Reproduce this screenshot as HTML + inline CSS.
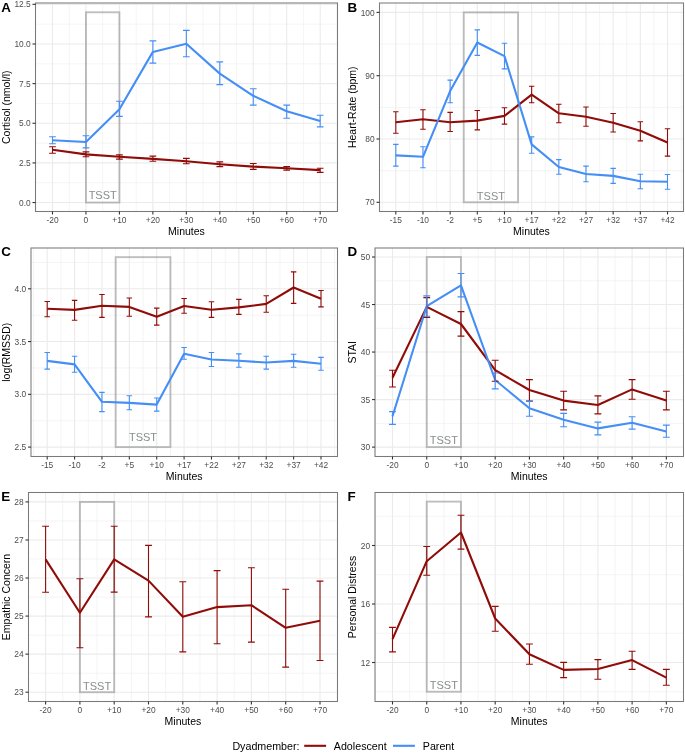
<!DOCTYPE html>
<html><head><meta charset="utf-8"><style>
html,body{margin:0;padding:0;background:#fff;}
svg{display:block;will-change:transform;font-family:"Liberation Sans",sans-serif;}
</style></head><body>
<svg width="685" height="753" viewBox="0 0 685 753">
<rect width="685" height="753" fill="#fff"/>
<g><clipPath id="cA"><rect x="35.5" y="3" width="302.0" height="208.5"/></clipPath><g clip-path="url(#cA)"><line x1="35.5" x2="337.5" y1="222.37" y2="222.37" stroke="#ebebeb" stroke-width="0.55"/><line x1="35.5" x2="337.5" y1="182.73" y2="182.73" stroke="#ebebeb" stroke-width="0.55"/><line x1="35.5" x2="337.5" y1="143.09" y2="143.09" stroke="#ebebeb" stroke-width="0.55"/><line x1="35.5" x2="337.5" y1="103.45" y2="103.45" stroke="#ebebeb" stroke-width="0.55"/><line x1="35.5" x2="337.5" y1="63.81" y2="63.81" stroke="#ebebeb" stroke-width="0.55"/><line x1="35.5" x2="337.5" y1="24.17" y2="24.17" stroke="#ebebeb" stroke-width="0.55"/><line y1="3" y2="211.5" x1="35.77" x2="35.77" stroke="#ebebeb" stroke-width="0.55"/><line y1="3" y2="211.5" x1="69.23" x2="69.23" stroke="#ebebeb" stroke-width="0.55"/><line y1="3" y2="211.5" x1="102.69" x2="102.69" stroke="#ebebeb" stroke-width="0.55"/><line y1="3" y2="211.5" x1="136.15" x2="136.15" stroke="#ebebeb" stroke-width="0.55"/><line y1="3" y2="211.5" x1="169.61" x2="169.61" stroke="#ebebeb" stroke-width="0.55"/><line y1="3" y2="211.5" x1="203.07" x2="203.07" stroke="#ebebeb" stroke-width="0.55"/><line y1="3" y2="211.5" x1="236.53" x2="236.53" stroke="#ebebeb" stroke-width="0.55"/><line y1="3" y2="211.5" x1="269.99" x2="269.99" stroke="#ebebeb" stroke-width="0.55"/><line y1="3" y2="211.5" x1="303.45" x2="303.45" stroke="#ebebeb" stroke-width="0.55"/><line y1="3" y2="211.5" x1="336.91" x2="336.91" stroke="#ebebeb" stroke-width="0.55"/><line x1="35.5" x2="337.5" y1="202.55" y2="202.55" stroke="#ebebeb" stroke-width="1.1"/><line x1="35.5" x2="337.5" y1="162.91" y2="162.91" stroke="#ebebeb" stroke-width="1.1"/><line x1="35.5" x2="337.5" y1="123.27" y2="123.27" stroke="#ebebeb" stroke-width="1.1"/><line x1="35.5" x2="337.5" y1="83.63" y2="83.63" stroke="#ebebeb" stroke-width="1.1"/><line x1="35.5" x2="337.5" y1="43.99" y2="43.99" stroke="#ebebeb" stroke-width="1.1"/><line x1="35.5" x2="337.5" y1="4.35" y2="4.35" stroke="#ebebeb" stroke-width="1.1"/><line y1="3" y2="211.5" x1="52.5" x2="52.5" stroke="#ebebeb" stroke-width="1.1"/><line y1="3" y2="211.5" x1="85.96" x2="85.96" stroke="#ebebeb" stroke-width="1.1"/><line y1="3" y2="211.5" x1="119.42" x2="119.42" stroke="#ebebeb" stroke-width="1.1"/><line y1="3" y2="211.5" x1="152.88" x2="152.88" stroke="#ebebeb" stroke-width="1.1"/><line y1="3" y2="211.5" x1="186.34" x2="186.34" stroke="#ebebeb" stroke-width="1.1"/><line y1="3" y2="211.5" x1="219.8" x2="219.8" stroke="#ebebeb" stroke-width="1.1"/><line y1="3" y2="211.5" x1="253.26" x2="253.26" stroke="#ebebeb" stroke-width="1.1"/><line y1="3" y2="211.5" x1="286.72" x2="286.72" stroke="#ebebeb" stroke-width="1.1"/><line y1="3" y2="211.5" x1="320.18" x2="320.18" stroke="#ebebeb" stroke-width="1.1"/><rect x="85.96" y="12.28" width="33.46" height="190.27" fill="none" stroke="#7f7f7f" stroke-opacity="0.5" stroke-width="1.9"/><text x="102.69" y="198.7" text-anchor="middle" font-size="11" fill="#888d8d">TSST</text><path d="M52.5 149.8 L85.96 154.4 L119.42 156.8 L152.88 158.9 L186.34 161.3 L219.8 164.2 L253.26 166.6 L286.72 168.2 L320.18 170.1" stroke="#900c08" stroke-width="2.1" fill="none" stroke-linejoin="round" stroke-linecap="butt"/><path d="M52.5 140.2 L85.96 142 L119.42 109.3 L152.88 51.9 L186.34 43.7 L219.8 73.6 L253.26 95.8 L286.72 111.2 L320.18 121" stroke="#448ef6" stroke-width="2.1" fill="none" stroke-linejoin="round" stroke-linecap="butt"/><path d="M49.15 146.7H55.85M52.5 146.7V153.3M49.15 153.3H55.85" stroke="#900c08" stroke-width="1.1" fill="none"/><path d="M82.61 151.9H89.31M85.96 151.9V156.8M82.61 156.8H89.31" stroke="#900c08" stroke-width="1.1" fill="none"/><path d="M116.07 154.9H122.77M119.42 154.9V159.1M116.07 159.1H122.77" stroke="#900c08" stroke-width="1.1" fill="none"/><path d="M149.53 156.1H156.23M152.88 156.1V161.2M149.53 161.2H156.23" stroke="#900c08" stroke-width="1.1" fill="none"/><path d="M182.99 158.4H189.69M186.34 158.4V163.8M182.99 163.8H189.69" stroke="#900c08" stroke-width="1.1" fill="none"/><path d="M216.45 161.9H223.15M219.8 161.9V166.6M216.45 166.6H223.15" stroke="#900c08" stroke-width="1.1" fill="none"/><path d="M249.91 163.5H256.61M253.26 163.5V169.4M249.91 169.4H256.61" stroke="#900c08" stroke-width="1.1" fill="none"/><path d="M283.37 166.6H290.07M286.72 166.6V170.1M283.37 170.1H290.07" stroke="#900c08" stroke-width="1.1" fill="none"/><path d="M316.83 168.2H323.53M320.18 168.2V172.4M316.83 172.4H323.53" stroke="#900c08" stroke-width="1.1" fill="none"/><path d="M49.15 136.7H55.85M52.5 136.7V143.7M49.15 143.7H55.85" stroke="#448ef6" stroke-width="1.1" fill="none"/><path d="M82.61 135.7H89.31M85.96 135.7V147.9M82.61 147.9H89.31" stroke="#448ef6" stroke-width="1.1" fill="none"/><path d="M116.07 101.2H122.77M119.42 101.2V116.4M116.07 116.4H122.77" stroke="#448ef6" stroke-width="1.1" fill="none"/><path d="M149.53 40.9H156.23M152.88 40.9V63.1M149.53 63.1H156.23" stroke="#448ef6" stroke-width="1.1" fill="none"/><path d="M182.99 30.4H189.69M186.34 30.4V56.8M182.99 56.8H189.69" stroke="#448ef6" stroke-width="1.1" fill="none"/><path d="M216.45 61.9H223.15M219.8 61.9V84.6M216.45 84.6H223.15" stroke="#448ef6" stroke-width="1.1" fill="none"/><path d="M249.91 88.8H256.61M253.26 88.8V105.1M249.91 105.1H256.61" stroke="#448ef6" stroke-width="1.1" fill="none"/><path d="M283.37 105.1H290.07M286.72 105.1V118.2M283.37 118.2H290.07" stroke="#448ef6" stroke-width="1.1" fill="none"/><path d="M316.83 115.2H323.53M320.18 115.2V126.9M316.83 126.9H323.53" stroke="#448ef6" stroke-width="1.1" fill="none"/></g><rect x="35.5" y="3" width="302" height="208.5" fill="none" stroke="#7a7a7a" stroke-width="1.05"/><line x1="32.5" x2="35.5" y1="202.55" y2="202.55" stroke="#333333" stroke-width="1.1"/><text x="30.7" y="205.65" text-anchor="end" font-size="8.4" fill="#4d4d4d">0.0</text><line x1="32.5" x2="35.5" y1="162.91" y2="162.91" stroke="#333333" stroke-width="1.1"/><text x="30.7" y="166.01" text-anchor="end" font-size="8.4" fill="#4d4d4d">2.5</text><line x1="32.5" x2="35.5" y1="123.27" y2="123.27" stroke="#333333" stroke-width="1.1"/><text x="30.7" y="126.37" text-anchor="end" font-size="8.4" fill="#4d4d4d">5.0</text><line x1="32.5" x2="35.5" y1="83.63" y2="83.63" stroke="#333333" stroke-width="1.1"/><text x="30.7" y="86.73" text-anchor="end" font-size="8.4" fill="#4d4d4d">7.5</text><line x1="32.5" x2="35.5" y1="43.99" y2="43.99" stroke="#333333" stroke-width="1.1"/><text x="30.7" y="47.09" text-anchor="end" font-size="8.4" fill="#4d4d4d">10.0</text><line x1="32.5" x2="35.5" y1="4.35" y2="4.35" stroke="#333333" stroke-width="1.1"/><text x="30.7" y="7.45" text-anchor="end" font-size="8.4" fill="#4d4d4d">12.5</text><line x1="52.5" x2="52.5" y1="211.5" y2="214.5" stroke="#333333" stroke-width="1.1"/><text x="52.5" y="222.9" text-anchor="middle" font-size="8.4" fill="#4d4d4d">-20</text><line x1="85.96" x2="85.96" y1="211.5" y2="214.5" stroke="#333333" stroke-width="1.1"/><text x="85.96" y="222.9" text-anchor="middle" font-size="8.4" fill="#4d4d4d">0</text><line x1="119.42" x2="119.42" y1="211.5" y2="214.5" stroke="#333333" stroke-width="1.1"/><text x="119.42" y="222.9" text-anchor="middle" font-size="8.4" fill="#4d4d4d">+10</text><line x1="152.88" x2="152.88" y1="211.5" y2="214.5" stroke="#333333" stroke-width="1.1"/><text x="152.88" y="222.9" text-anchor="middle" font-size="8.4" fill="#4d4d4d">+20</text><line x1="186.34" x2="186.34" y1="211.5" y2="214.5" stroke="#333333" stroke-width="1.1"/><text x="186.34" y="222.9" text-anchor="middle" font-size="8.4" fill="#4d4d4d">+30</text><line x1="219.8" x2="219.8" y1="211.5" y2="214.5" stroke="#333333" stroke-width="1.1"/><text x="219.8" y="222.9" text-anchor="middle" font-size="8.4" fill="#4d4d4d">+40</text><line x1="253.26" x2="253.26" y1="211.5" y2="214.5" stroke="#333333" stroke-width="1.1"/><text x="253.26" y="222.9" text-anchor="middle" font-size="8.4" fill="#4d4d4d">+50</text><line x1="286.72" x2="286.72" y1="211.5" y2="214.5" stroke="#333333" stroke-width="1.1"/><text x="286.72" y="222.9" text-anchor="middle" font-size="8.4" fill="#4d4d4d">+60</text><line x1="320.18" x2="320.18" y1="211.5" y2="214.5" stroke="#333333" stroke-width="1.1"/><text x="320.18" y="222.9" text-anchor="middle" font-size="8.4" fill="#4d4d4d">+70</text><text x="186.5" y="235.1" text-anchor="middle" font-size="10.5" fill="#000">Minutes</text><text transform="translate(9.6 107.25) rotate(-90)" text-anchor="middle" font-size="10.5" fill="#000">Cortisol (nmol/l)</text><text x="1.3" y="12" font-size="13.4" font-weight="bold" fill="#000">A</text></g><g><clipPath id="cB"><rect x="379.5" y="3" width="304.0" height="208.5"/></clipPath><g clip-path="url(#cB)"><line x1="379.5" x2="683.5" y1="233.95" y2="233.95" stroke="#ebebeb" stroke-width="0.55"/><line x1="379.5" x2="683.5" y1="170.65" y2="170.65" stroke="#ebebeb" stroke-width="0.55"/><line x1="379.5" x2="683.5" y1="107.35" y2="107.35" stroke="#ebebeb" stroke-width="0.55"/><line x1="379.5" x2="683.5" y1="44.05" y2="44.05" stroke="#ebebeb" stroke-width="0.55"/><line x1="379.5" x2="683.5" y1="-19.25" y2="-19.25" stroke="#ebebeb" stroke-width="0.55"/><line y1="3" y2="211.5" x1="382.22" x2="382.22" stroke="#ebebeb" stroke-width="0.55"/><line y1="3" y2="211.5" x1="409.38" x2="409.38" stroke="#ebebeb" stroke-width="0.55"/><line y1="3" y2="211.5" x1="436.56" x2="436.56" stroke="#ebebeb" stroke-width="0.55"/><line y1="3" y2="211.5" x1="463.73" x2="463.73" stroke="#ebebeb" stroke-width="0.55"/><line y1="3" y2="211.5" x1="490.89" x2="490.89" stroke="#ebebeb" stroke-width="0.55"/><line y1="3" y2="211.5" x1="518.07" x2="518.07" stroke="#ebebeb" stroke-width="0.55"/><line y1="3" y2="211.5" x1="545.24" x2="545.24" stroke="#ebebeb" stroke-width="0.55"/><line y1="3" y2="211.5" x1="572.4" x2="572.4" stroke="#ebebeb" stroke-width="0.55"/><line y1="3" y2="211.5" x1="599.58" x2="599.58" stroke="#ebebeb" stroke-width="0.55"/><line y1="3" y2="211.5" x1="626.75" x2="626.75" stroke="#ebebeb" stroke-width="0.55"/><line y1="3" y2="211.5" x1="653.91" x2="653.91" stroke="#ebebeb" stroke-width="0.55"/><line y1="3" y2="211.5" x1="681.09" x2="681.09" stroke="#ebebeb" stroke-width="0.55"/><line x1="379.5" x2="683.5" y1="202.3" y2="202.3" stroke="#ebebeb" stroke-width="1.1"/><line x1="379.5" x2="683.5" y1="139" y2="139" stroke="#ebebeb" stroke-width="1.1"/><line x1="379.5" x2="683.5" y1="75.7" y2="75.7" stroke="#ebebeb" stroke-width="1.1"/><line x1="379.5" x2="683.5" y1="12.4" y2="12.4" stroke="#ebebeb" stroke-width="1.1"/><line y1="3" y2="211.5" x1="395.8" x2="395.8" stroke="#ebebeb" stroke-width="1.1"/><line y1="3" y2="211.5" x1="422.97" x2="422.97" stroke="#ebebeb" stroke-width="1.1"/><line y1="3" y2="211.5" x1="450.14" x2="450.14" stroke="#ebebeb" stroke-width="1.1"/><line y1="3" y2="211.5" x1="477.31" x2="477.31" stroke="#ebebeb" stroke-width="1.1"/><line y1="3" y2="211.5" x1="504.48" x2="504.48" stroke="#ebebeb" stroke-width="1.1"/><line y1="3" y2="211.5" x1="531.65" x2="531.65" stroke="#ebebeb" stroke-width="1.1"/><line y1="3" y2="211.5" x1="558.82" x2="558.82" stroke="#ebebeb" stroke-width="1.1"/><line y1="3" y2="211.5" x1="585.99" x2="585.99" stroke="#ebebeb" stroke-width="1.1"/><line y1="3" y2="211.5" x1="613.16" x2="613.16" stroke="#ebebeb" stroke-width="1.1"/><line y1="3" y2="211.5" x1="640.33" x2="640.33" stroke="#ebebeb" stroke-width="1.1"/><line y1="3" y2="211.5" x1="667.5" x2="667.5" stroke="#ebebeb" stroke-width="1.1"/><rect x="463.73" y="12.4" width="54.34" height="189.9" fill="none" stroke="#7f7f7f" stroke-opacity="0.5" stroke-width="1.9"/><text x="490.9" y="200" text-anchor="middle" font-size="11" fill="#888d8d">TSST</text><path d="M395.8 122.2 L422.97 119.2 L450.14 122.2 L477.31 120.6 L504.48 115.9 L531.65 94.6 L558.82 113.3 L585.99 116.8 L613.16 122.7 L640.33 130.8 L667.5 142.5" stroke="#900c08" stroke-width="2.1" fill="none" stroke-linejoin="round" stroke-linecap="butt"/><path d="M395.8 155.4 L422.97 156.8 L450.14 91.1 L477.31 42.5 L504.48 56.1 L531.65 144.4 L558.82 167 L585.99 174 L613.16 175.9 L640.33 181.3 L667.5 181.8" stroke="#448ef6" stroke-width="2.1" fill="none" stroke-linejoin="round" stroke-linecap="butt"/><path d="M393.08 111.7H398.52M395.8 111.7V133.2M393.08 133.2H398.52" stroke="#900c08" stroke-width="1.1" fill="none"/><path d="M420.25 109.8H425.69M422.97 109.8V129.2M420.25 129.2H425.69" stroke="#900c08" stroke-width="1.1" fill="none"/><path d="M447.42 112.4H452.86M450.14 112.4V131.5M447.42 131.5H452.86" stroke="#900c08" stroke-width="1.1" fill="none"/><path d="M474.59 110.5H480.03M477.31 110.5V129.9M474.59 129.9H480.03" stroke="#900c08" stroke-width="1.1" fill="none"/><path d="M501.76 107.7H507.2M504.48 107.7V124.1M501.76 124.1H507.2" stroke="#900c08" stroke-width="1.1" fill="none"/><path d="M528.93 86.2H534.37M531.65 86.2V102.8M528.93 102.8H534.37" stroke="#900c08" stroke-width="1.1" fill="none"/><path d="M556.1 104.2H561.54M558.82 104.2V122.7M556.1 122.7H561.54" stroke="#900c08" stroke-width="1.1" fill="none"/><path d="M583.27 107H588.71M585.99 107V126.2M583.27 126.2H588.71" stroke="#900c08" stroke-width="1.1" fill="none"/><path d="M610.44 113.5H615.88M613.16 113.5V132M610.44 132H615.88" stroke="#900c08" stroke-width="1.1" fill="none"/><path d="M637.61 121.7H643.05M640.33 121.7V140.9M637.61 140.9H643.05" stroke="#900c08" stroke-width="1.1" fill="none"/><path d="M664.78 128.7H670.22M667.5 128.7V156.1M664.78 156.1H670.22" stroke="#900c08" stroke-width="1.1" fill="none"/><path d="M393.08 144.4H398.52M395.8 144.4V166.1M393.08 166.1H398.52" stroke="#448ef6" stroke-width="1.1" fill="none"/><path d="M420.25 146.7H425.69M422.97 146.7V167.7M420.25 167.7H425.69" stroke="#448ef6" stroke-width="1.1" fill="none"/><path d="M447.42 80.1H452.86M450.14 80.1V102.8M447.42 102.8H452.86" stroke="#448ef6" stroke-width="1.1" fill="none"/><path d="M474.59 29.9H480.03M477.31 29.9V55.4M474.59 55.4H480.03" stroke="#448ef6" stroke-width="1.1" fill="none"/><path d="M501.76 43.2H507.2M504.48 43.2V68.9M501.76 68.9H507.2" stroke="#448ef6" stroke-width="1.1" fill="none"/><path d="M528.93 136.9H534.37M531.65 136.9V153.3M528.93 153.3H534.37" stroke="#448ef6" stroke-width="1.1" fill="none"/><path d="M556.1 159.6H561.54M558.82 159.6V174.3M556.1 174.3H561.54" stroke="#448ef6" stroke-width="1.1" fill="none"/><path d="M583.27 166.1H588.71M585.99 166.1V181.8M583.27 181.8H588.71" stroke="#448ef6" stroke-width="1.1" fill="none"/><path d="M610.44 168.4H615.88M613.16 168.4V183.4M610.44 183.4H615.88" stroke="#448ef6" stroke-width="1.1" fill="none"/><path d="M637.61 174.3H643.05M640.33 174.3V188.8M637.61 188.8H643.05" stroke="#448ef6" stroke-width="1.1" fill="none"/><path d="M664.78 174.5H670.22M667.5 174.5V189.2M664.78 189.2H670.22" stroke="#448ef6" stroke-width="1.1" fill="none"/></g><rect x="379.5" y="3" width="304" height="208.5" fill="none" stroke="#7a7a7a" stroke-width="1.05"/><line x1="376.5" x2="379.5" y1="202.3" y2="202.3" stroke="#333333" stroke-width="1.1"/><text x="374.7" y="205.4" text-anchor="end" font-size="8.4" fill="#4d4d4d">70</text><line x1="376.5" x2="379.5" y1="139" y2="139" stroke="#333333" stroke-width="1.1"/><text x="374.7" y="142.1" text-anchor="end" font-size="8.4" fill="#4d4d4d">80</text><line x1="376.5" x2="379.5" y1="75.7" y2="75.7" stroke="#333333" stroke-width="1.1"/><text x="374.7" y="78.8" text-anchor="end" font-size="8.4" fill="#4d4d4d">90</text><line x1="376.5" x2="379.5" y1="12.4" y2="12.4" stroke="#333333" stroke-width="1.1"/><text x="374.7" y="15.5" text-anchor="end" font-size="8.4" fill="#4d4d4d">100</text><line x1="395.8" x2="395.8" y1="211.5" y2="214.5" stroke="#333333" stroke-width="1.1"/><text x="395.8" y="222.9" text-anchor="middle" font-size="8.4" fill="#4d4d4d">-15</text><line x1="422.97" x2="422.97" y1="211.5" y2="214.5" stroke="#333333" stroke-width="1.1"/><text x="422.97" y="222.9" text-anchor="middle" font-size="8.4" fill="#4d4d4d">-10</text><line x1="450.14" x2="450.14" y1="211.5" y2="214.5" stroke="#333333" stroke-width="1.1"/><text x="450.14" y="222.9" text-anchor="middle" font-size="8.4" fill="#4d4d4d">-2</text><line x1="477.31" x2="477.31" y1="211.5" y2="214.5" stroke="#333333" stroke-width="1.1"/><text x="477.31" y="222.9" text-anchor="middle" font-size="8.4" fill="#4d4d4d">+5</text><line x1="504.48" x2="504.48" y1="211.5" y2="214.5" stroke="#333333" stroke-width="1.1"/><text x="504.48" y="222.9" text-anchor="middle" font-size="8.4" fill="#4d4d4d">+10</text><line x1="531.65" x2="531.65" y1="211.5" y2="214.5" stroke="#333333" stroke-width="1.1"/><text x="531.65" y="222.9" text-anchor="middle" font-size="8.4" fill="#4d4d4d">+17</text><line x1="558.82" x2="558.82" y1="211.5" y2="214.5" stroke="#333333" stroke-width="1.1"/><text x="558.82" y="222.9" text-anchor="middle" font-size="8.4" fill="#4d4d4d">+22</text><line x1="585.99" x2="585.99" y1="211.5" y2="214.5" stroke="#333333" stroke-width="1.1"/><text x="585.99" y="222.9" text-anchor="middle" font-size="8.4" fill="#4d4d4d">+27</text><line x1="613.16" x2="613.16" y1="211.5" y2="214.5" stroke="#333333" stroke-width="1.1"/><text x="613.16" y="222.9" text-anchor="middle" font-size="8.4" fill="#4d4d4d">+32</text><line x1="640.33" x2="640.33" y1="211.5" y2="214.5" stroke="#333333" stroke-width="1.1"/><text x="640.33" y="222.9" text-anchor="middle" font-size="8.4" fill="#4d4d4d">+37</text><line x1="667.5" x2="667.5" y1="211.5" y2="214.5" stroke="#333333" stroke-width="1.1"/><text x="667.5" y="222.9" text-anchor="middle" font-size="8.4" fill="#4d4d4d">+42</text><text x="531.5" y="235.1" text-anchor="middle" font-size="10.5" fill="#000">Minutes</text><text transform="translate(356 107.25) rotate(-90)" text-anchor="middle" font-size="10.5" fill="#000">Heart-Rate (bpm)</text><text x="347.6" y="12" font-size="13.4" font-weight="bold" fill="#000">B</text></g><g><clipPath id="cC"><rect x="31" y="248" width="306.5" height="208.5"/></clipPath><g clip-path="url(#cC)"><line x1="31" x2="337.5" y1="473.48" y2="473.48" stroke="#ebebeb" stroke-width="0.55"/><line x1="31" x2="337.5" y1="420.72" y2="420.72" stroke="#ebebeb" stroke-width="0.55"/><line x1="31" x2="337.5" y1="367.95" y2="367.95" stroke="#ebebeb" stroke-width="0.55"/><line x1="31" x2="337.5" y1="315.18" y2="315.18" stroke="#ebebeb" stroke-width="0.55"/><line x1="31" x2="337.5" y1="262.42" y2="262.42" stroke="#ebebeb" stroke-width="0.55"/><line y1="248" y2="456.5" x1="33.51" x2="33.51" stroke="#ebebeb" stroke-width="0.55"/><line y1="248" y2="456.5" x1="60.89" x2="60.89" stroke="#ebebeb" stroke-width="0.55"/><line y1="248" y2="456.5" x1="88.27" x2="88.27" stroke="#ebebeb" stroke-width="0.55"/><line y1="248" y2="456.5" x1="115.65" x2="115.65" stroke="#ebebeb" stroke-width="0.55"/><line y1="248" y2="456.5" x1="143.03" x2="143.03" stroke="#ebebeb" stroke-width="0.55"/><line y1="248" y2="456.5" x1="170.41" x2="170.41" stroke="#ebebeb" stroke-width="0.55"/><line y1="248" y2="456.5" x1="197.79" x2="197.79" stroke="#ebebeb" stroke-width="0.55"/><line y1="248" y2="456.5" x1="225.17" x2="225.17" stroke="#ebebeb" stroke-width="0.55"/><line y1="248" y2="456.5" x1="252.55" x2="252.55" stroke="#ebebeb" stroke-width="0.55"/><line y1="248" y2="456.5" x1="279.93" x2="279.93" stroke="#ebebeb" stroke-width="0.55"/><line y1="248" y2="456.5" x1="307.31" x2="307.31" stroke="#ebebeb" stroke-width="0.55"/><line y1="248" y2="456.5" x1="334.69" x2="334.69" stroke="#ebebeb" stroke-width="0.55"/><line x1="31" x2="337.5" y1="447.1" y2="447.1" stroke="#ebebeb" stroke-width="1.1"/><line x1="31" x2="337.5" y1="394.33" y2="394.33" stroke="#ebebeb" stroke-width="1.1"/><line x1="31" x2="337.5" y1="341.57" y2="341.57" stroke="#ebebeb" stroke-width="1.1"/><line x1="31" x2="337.5" y1="288.8" y2="288.8" stroke="#ebebeb" stroke-width="1.1"/><line y1="248" y2="456.5" x1="47.2" x2="47.2" stroke="#ebebeb" stroke-width="1.1"/><line y1="248" y2="456.5" x1="74.58" x2="74.58" stroke="#ebebeb" stroke-width="1.1"/><line y1="248" y2="456.5" x1="101.96" x2="101.96" stroke="#ebebeb" stroke-width="1.1"/><line y1="248" y2="456.5" x1="129.34" x2="129.34" stroke="#ebebeb" stroke-width="1.1"/><line y1="248" y2="456.5" x1="156.72" x2="156.72" stroke="#ebebeb" stroke-width="1.1"/><line y1="248" y2="456.5" x1="184.1" x2="184.1" stroke="#ebebeb" stroke-width="1.1"/><line y1="248" y2="456.5" x1="211.48" x2="211.48" stroke="#ebebeb" stroke-width="1.1"/><line y1="248" y2="456.5" x1="238.86" x2="238.86" stroke="#ebebeb" stroke-width="1.1"/><line y1="248" y2="456.5" x1="266.24" x2="266.24" stroke="#ebebeb" stroke-width="1.1"/><line y1="248" y2="456.5" x1="293.62" x2="293.62" stroke="#ebebeb" stroke-width="1.1"/><line y1="248" y2="456.5" x1="321" x2="321" stroke="#ebebeb" stroke-width="1.1"/><rect x="115.65" y="257.14" width="54.76" height="189.96" fill="none" stroke="#7f7f7f" stroke-opacity="0.5" stroke-width="1.9"/><text x="143.03" y="441" text-anchor="middle" font-size="11" fill="#888d8d">TSST</text><path d="M47.2 308.8 L74.58 309.9 L101.96 305.7 L129.34 306.9 L156.72 316.7 L184.1 306 L211.48 309.7 L238.86 307.4 L266.24 303.9 L293.62 287.5 L321 298.7" stroke="#900c08" stroke-width="2.1" fill="none" stroke-linejoin="round" stroke-linecap="butt"/><path d="M47.2 360.9 L74.58 364.4 L101.96 401.8 L129.34 402.9 L156.72 404.6 L184.1 353.7 L211.48 359.5 L238.86 360.7 L266.24 362.5 L293.62 360.9 L321 363.7" stroke="#448ef6" stroke-width="2.1" fill="none" stroke-linejoin="round" stroke-linecap="butt"/><path d="M44.46 301.5H49.94M47.2 301.5V316.7M44.46 316.7H49.94" stroke="#900c08" stroke-width="1.1" fill="none"/><path d="M71.84 300.4H77.32M74.58 300.4V320.2M71.84 320.2H77.32" stroke="#900c08" stroke-width="1.1" fill="none"/><path d="M99.22 294.5H104.7M101.96 294.5V317.4M99.22 317.4H104.7" stroke="#900c08" stroke-width="1.1" fill="none"/><path d="M126.6 298H132.08M129.34 298V316.2M126.6 316.2H132.08" stroke="#900c08" stroke-width="1.1" fill="none"/><path d="M153.98 308.1H159.46M156.72 308.1V325.1M153.98 325.1H159.46" stroke="#900c08" stroke-width="1.1" fill="none"/><path d="M181.36 298.5H186.84M184.1 298.5V313.3M181.36 313.3H186.84" stroke="#900c08" stroke-width="1.1" fill="none"/><path d="M208.74 301.8H214.22M211.48 301.8V317.4M208.74 317.4H214.22" stroke="#900c08" stroke-width="1.1" fill="none"/><path d="M236.12 299.4H241.6M238.86 299.4V314.4M236.12 314.4H241.6" stroke="#900c08" stroke-width="1.1" fill="none"/><path d="M263.5 295.7H268.98M266.24 295.7V312.3M263.5 312.3H268.98" stroke="#900c08" stroke-width="1.1" fill="none"/><path d="M290.88 271.9H296.36M293.62 271.9V303.4M290.88 303.4H296.36" stroke="#900c08" stroke-width="1.1" fill="none"/><path d="M318.26 290.5H323.74M321 290.5V306.9M318.26 306.9H323.74" stroke="#900c08" stroke-width="1.1" fill="none"/><path d="M44.46 352.5H49.94M47.2 352.5V369.1M44.46 369.1H49.94" stroke="#448ef6" stroke-width="1.1" fill="none"/><path d="M71.84 356.2H77.32M74.58 356.2V372.3M71.84 372.3H77.32" stroke="#448ef6" stroke-width="1.1" fill="none"/><path d="M99.22 392.4H104.7M101.96 392.4V411.6M99.22 411.6H104.7" stroke="#448ef6" stroke-width="1.1" fill="none"/><path d="M126.6 395.7H132.08M129.34 395.7V409.7M126.6 409.7H132.08" stroke="#448ef6" stroke-width="1.1" fill="none"/><path d="M153.98 398H159.46M156.72 398V411.1M153.98 411.1H159.46" stroke="#448ef6" stroke-width="1.1" fill="none"/><path d="M181.36 347.5H186.84M184.1 347.5V359.2M181.36 359.2H186.84" stroke="#448ef6" stroke-width="1.1" fill="none"/><path d="M208.74 352.5H214.22M211.48 352.5V366.5M208.74 366.5H214.22" stroke="#448ef6" stroke-width="1.1" fill="none"/><path d="M236.12 353.9H241.6M238.86 353.9V367.2M236.12 367.2H241.6" stroke="#448ef6" stroke-width="1.1" fill="none"/><path d="M263.5 356.2H268.98M266.24 356.2V369.1M263.5 369.1H268.98" stroke="#448ef6" stroke-width="1.1" fill="none"/><path d="M290.88 354.3H296.36M293.62 354.3V367.2M290.88 367.2H296.36" stroke="#448ef6" stroke-width="1.1" fill="none"/><path d="M318.26 357.4H323.74M321 357.4V370.2M318.26 370.2H323.74" stroke="#448ef6" stroke-width="1.1" fill="none"/></g><rect x="31" y="248" width="306.5" height="208.5" fill="none" stroke="#7a7a7a" stroke-width="1.05"/><line x1="28" x2="31" y1="447.1" y2="447.1" stroke="#333333" stroke-width="1.1"/><text x="26.2" y="450.2" text-anchor="end" font-size="8.4" fill="#4d4d4d">2.5</text><line x1="28" x2="31" y1="394.33" y2="394.33" stroke="#333333" stroke-width="1.1"/><text x="26.2" y="397.43" text-anchor="end" font-size="8.4" fill="#4d4d4d">3.0</text><line x1="28" x2="31" y1="341.57" y2="341.57" stroke="#333333" stroke-width="1.1"/><text x="26.2" y="344.67" text-anchor="end" font-size="8.4" fill="#4d4d4d">3.5</text><line x1="28" x2="31" y1="288.8" y2="288.8" stroke="#333333" stroke-width="1.1"/><text x="26.2" y="291.9" text-anchor="end" font-size="8.4" fill="#4d4d4d">4.0</text><line x1="47.2" x2="47.2" y1="456.5" y2="459.5" stroke="#333333" stroke-width="1.1"/><text x="47.2" y="467.9" text-anchor="middle" font-size="8.4" fill="#4d4d4d">-15</text><line x1="74.58" x2="74.58" y1="456.5" y2="459.5" stroke="#333333" stroke-width="1.1"/><text x="74.58" y="467.9" text-anchor="middle" font-size="8.4" fill="#4d4d4d">-10</text><line x1="101.96" x2="101.96" y1="456.5" y2="459.5" stroke="#333333" stroke-width="1.1"/><text x="101.96" y="467.9" text-anchor="middle" font-size="8.4" fill="#4d4d4d">-2</text><line x1="129.34" x2="129.34" y1="456.5" y2="459.5" stroke="#333333" stroke-width="1.1"/><text x="129.34" y="467.9" text-anchor="middle" font-size="8.4" fill="#4d4d4d">+5</text><line x1="156.72" x2="156.72" y1="456.5" y2="459.5" stroke="#333333" stroke-width="1.1"/><text x="156.72" y="467.9" text-anchor="middle" font-size="8.4" fill="#4d4d4d">+10</text><line x1="184.1" x2="184.1" y1="456.5" y2="459.5" stroke="#333333" stroke-width="1.1"/><text x="184.1" y="467.9" text-anchor="middle" font-size="8.4" fill="#4d4d4d">+17</text><line x1="211.48" x2="211.48" y1="456.5" y2="459.5" stroke="#333333" stroke-width="1.1"/><text x="211.48" y="467.9" text-anchor="middle" font-size="8.4" fill="#4d4d4d">+22</text><line x1="238.86" x2="238.86" y1="456.5" y2="459.5" stroke="#333333" stroke-width="1.1"/><text x="238.86" y="467.9" text-anchor="middle" font-size="8.4" fill="#4d4d4d">+27</text><line x1="266.24" x2="266.24" y1="456.5" y2="459.5" stroke="#333333" stroke-width="1.1"/><text x="266.24" y="467.9" text-anchor="middle" font-size="8.4" fill="#4d4d4d">+32</text><line x1="293.62" x2="293.62" y1="456.5" y2="459.5" stroke="#333333" stroke-width="1.1"/><text x="293.62" y="467.9" text-anchor="middle" font-size="8.4" fill="#4d4d4d">+37</text><line x1="321" x2="321" y1="456.5" y2="459.5" stroke="#333333" stroke-width="1.1"/><text x="321" y="467.9" text-anchor="middle" font-size="8.4" fill="#4d4d4d">+42</text><text x="184.25" y="480.1" text-anchor="middle" font-size="10.5" fill="#000">Minutes</text><text transform="translate(9.6 352.25) rotate(-90)" text-anchor="middle" font-size="10.5" fill="#000">log(RMSSD)</text><text x="1.3" y="256.3" font-size="13.4" font-weight="bold" fill="#000">C</text></g><g><clipPath id="cD"><rect x="375" y="248" width="308.5" height="208.5"/></clipPath><g clip-path="url(#cD)"><line x1="375" x2="683.5" y1="470.86" y2="470.86" stroke="#ebebeb" stroke-width="0.55"/><line x1="375" x2="683.5" y1="423.34" y2="423.34" stroke="#ebebeb" stroke-width="0.55"/><line x1="375" x2="683.5" y1="375.81" y2="375.81" stroke="#ebebeb" stroke-width="0.55"/><line x1="375" x2="683.5" y1="328.29" y2="328.29" stroke="#ebebeb" stroke-width="0.55"/><line x1="375" x2="683.5" y1="280.76" y2="280.76" stroke="#ebebeb" stroke-width="0.55"/><line y1="248" y2="456.5" x1="375.38" x2="375.38" stroke="#ebebeb" stroke-width="0.55"/><line y1="248" y2="456.5" x1="409.62" x2="409.62" stroke="#ebebeb" stroke-width="0.55"/><line y1="248" y2="456.5" x1="443.85" x2="443.85" stroke="#ebebeb" stroke-width="0.55"/><line y1="248" y2="456.5" x1="478.07" x2="478.07" stroke="#ebebeb" stroke-width="0.55"/><line y1="248" y2="456.5" x1="512.3" x2="512.3" stroke="#ebebeb" stroke-width="0.55"/><line y1="248" y2="456.5" x1="546.53" x2="546.53" stroke="#ebebeb" stroke-width="0.55"/><line y1="248" y2="456.5" x1="580.76" x2="580.76" stroke="#ebebeb" stroke-width="0.55"/><line y1="248" y2="456.5" x1="615" x2="615" stroke="#ebebeb" stroke-width="0.55"/><line y1="248" y2="456.5" x1="649.22" x2="649.22" stroke="#ebebeb" stroke-width="0.55"/><line y1="248" y2="456.5" x1="683.45" x2="683.45" stroke="#ebebeb" stroke-width="0.55"/><line x1="375" x2="683.5" y1="447.1" y2="447.1" stroke="#ebebeb" stroke-width="1.1"/><line x1="375" x2="683.5" y1="399.58" y2="399.58" stroke="#ebebeb" stroke-width="1.1"/><line x1="375" x2="683.5" y1="352.05" y2="352.05" stroke="#ebebeb" stroke-width="1.1"/><line x1="375" x2="683.5" y1="304.52" y2="304.52" stroke="#ebebeb" stroke-width="1.1"/><line x1="375" x2="683.5" y1="257" y2="257" stroke="#ebebeb" stroke-width="1.1"/><line y1="248" y2="456.5" x1="392.5" x2="392.5" stroke="#ebebeb" stroke-width="1.1"/><line y1="248" y2="456.5" x1="426.73" x2="426.73" stroke="#ebebeb" stroke-width="1.1"/><line y1="248" y2="456.5" x1="460.96" x2="460.96" stroke="#ebebeb" stroke-width="1.1"/><line y1="248" y2="456.5" x1="495.19" x2="495.19" stroke="#ebebeb" stroke-width="1.1"/><line y1="248" y2="456.5" x1="529.42" x2="529.42" stroke="#ebebeb" stroke-width="1.1"/><line y1="248" y2="456.5" x1="563.65" x2="563.65" stroke="#ebebeb" stroke-width="1.1"/><line y1="248" y2="456.5" x1="597.88" x2="597.88" stroke="#ebebeb" stroke-width="1.1"/><line y1="248" y2="456.5" x1="632.11" x2="632.11" stroke="#ebebeb" stroke-width="1.1"/><line y1="248" y2="456.5" x1="666.34" x2="666.34" stroke="#ebebeb" stroke-width="1.1"/><rect x="426.73" y="257" width="34.23" height="190.1" fill="none" stroke="#7f7f7f" stroke-opacity="0.5" stroke-width="1.9"/><text x="443.85" y="444.3" text-anchor="middle" font-size="11" fill="#888d8d">TSST</text><path d="M392.5 377.7 L426.73 306.9 L460.96 324 L495.19 370.2 L529.42 390 L563.65 400.6 L597.88 405 L632.11 389.4 L666.34 400.6" stroke="#900c08" stroke-width="2.1" fill="none" stroke-linejoin="round" stroke-linecap="butt"/><path d="M392.5 416.2 L426.73 306.2 L460.96 285.4 L495.19 380 L529.42 408.3 L563.65 419.7 L597.88 428.4 L632.11 422.8 L666.34 431.4" stroke="#448ef6" stroke-width="2.1" fill="none" stroke-linejoin="round" stroke-linecap="butt"/><path d="M389.08 370.2H395.92M392.5 370.2V387M389.08 387H395.92" stroke="#900c08" stroke-width="1.1" fill="none"/><path d="M423.31 297.6H430.15M426.73 297.6V317.4M423.31 317.4H430.15" stroke="#900c08" stroke-width="1.1" fill="none"/><path d="M457.54 311.6H464.38M460.96 311.6V336.1M457.54 336.1H464.38" stroke="#900c08" stroke-width="1.1" fill="none"/><path d="M491.77 360.2H498.61M495.19 360.2V381.2M491.77 381.2H498.61" stroke="#900c08" stroke-width="1.1" fill="none"/><path d="M526 379.6H532.84M529.42 379.6V401.1M526 401.1H532.84" stroke="#900c08" stroke-width="1.1" fill="none"/><path d="M560.23 391.3H567.07M563.65 391.3V409.9M560.23 409.9H567.07" stroke="#900c08" stroke-width="1.1" fill="none"/><path d="M594.46 395.9H601.3M597.88 395.9V413.9M594.46 413.9H601.3" stroke="#900c08" stroke-width="1.1" fill="none"/><path d="M628.69 379.6H635.53M632.11 379.6V399.2M628.69 399.2H635.53" stroke="#900c08" stroke-width="1.1" fill="none"/><path d="M662.92 391.3H669.76M666.34 391.3V409.9M662.92 409.9H669.76" stroke="#900c08" stroke-width="1.1" fill="none"/><path d="M389.08 411.6H395.92M392.5 411.6V424.4M389.08 424.4H395.92" stroke="#448ef6" stroke-width="1.1" fill="none"/><path d="M423.31 295.9H430.15M426.73 295.9V316.2M423.31 316.2H430.15" stroke="#448ef6" stroke-width="1.1" fill="none"/><path d="M457.54 273.5H464.38M460.96 273.5V296.9M457.54 296.9H464.38" stroke="#448ef6" stroke-width="1.1" fill="none"/><path d="M491.77 373H498.61M495.19 373V388.9M491.77 388.9H498.61" stroke="#448ef6" stroke-width="1.1" fill="none"/><path d="M526 401.1H532.84M529.42 401.1V416.2M526 416.2H532.84" stroke="#448ef6" stroke-width="1.1" fill="none"/><path d="M560.23 413.4H567.07M563.65 413.4V426.8M560.23 426.8H567.07" stroke="#448ef6" stroke-width="1.1" fill="none"/><path d="M594.46 422.1H601.3M597.88 422.1V434.9M594.46 434.9H601.3" stroke="#448ef6" stroke-width="1.1" fill="none"/><path d="M628.69 416.7H635.53M632.11 416.7V429.1M628.69 429.1H635.53" stroke="#448ef6" stroke-width="1.1" fill="none"/><path d="M662.92 425.1H669.76M666.34 425.1V437.3M662.92 437.3H669.76" stroke="#448ef6" stroke-width="1.1" fill="none"/></g><rect x="375" y="248" width="308.5" height="208.5" fill="none" stroke="#7a7a7a" stroke-width="1.05"/><line x1="372" x2="375" y1="447.1" y2="447.1" stroke="#333333" stroke-width="1.1"/><text x="370.2" y="450.2" text-anchor="end" font-size="8.4" fill="#4d4d4d">30</text><line x1="372" x2="375" y1="399.58" y2="399.58" stroke="#333333" stroke-width="1.1"/><text x="370.2" y="402.68" text-anchor="end" font-size="8.4" fill="#4d4d4d">35</text><line x1="372" x2="375" y1="352.05" y2="352.05" stroke="#333333" stroke-width="1.1"/><text x="370.2" y="355.15" text-anchor="end" font-size="8.4" fill="#4d4d4d">40</text><line x1="372" x2="375" y1="304.52" y2="304.52" stroke="#333333" stroke-width="1.1"/><text x="370.2" y="307.62" text-anchor="end" font-size="8.4" fill="#4d4d4d">45</text><line x1="372" x2="375" y1="257" y2="257" stroke="#333333" stroke-width="1.1"/><text x="370.2" y="260.1" text-anchor="end" font-size="8.4" fill="#4d4d4d">50</text><line x1="392.5" x2="392.5" y1="456.5" y2="459.5" stroke="#333333" stroke-width="1.1"/><text x="392.5" y="467.9" text-anchor="middle" font-size="8.4" fill="#4d4d4d">-20</text><line x1="426.73" x2="426.73" y1="456.5" y2="459.5" stroke="#333333" stroke-width="1.1"/><text x="426.73" y="467.9" text-anchor="middle" font-size="8.4" fill="#4d4d4d">0</text><line x1="460.96" x2="460.96" y1="456.5" y2="459.5" stroke="#333333" stroke-width="1.1"/><text x="460.96" y="467.9" text-anchor="middle" font-size="8.4" fill="#4d4d4d">+10</text><line x1="495.19" x2="495.19" y1="456.5" y2="459.5" stroke="#333333" stroke-width="1.1"/><text x="495.19" y="467.9" text-anchor="middle" font-size="8.4" fill="#4d4d4d">+20</text><line x1="529.42" x2="529.42" y1="456.5" y2="459.5" stroke="#333333" stroke-width="1.1"/><text x="529.42" y="467.9" text-anchor="middle" font-size="8.4" fill="#4d4d4d">+30</text><line x1="563.65" x2="563.65" y1="456.5" y2="459.5" stroke="#333333" stroke-width="1.1"/><text x="563.65" y="467.9" text-anchor="middle" font-size="8.4" fill="#4d4d4d">+40</text><line x1="597.88" x2="597.88" y1="456.5" y2="459.5" stroke="#333333" stroke-width="1.1"/><text x="597.88" y="467.9" text-anchor="middle" font-size="8.4" fill="#4d4d4d">+50</text><line x1="632.11" x2="632.11" y1="456.5" y2="459.5" stroke="#333333" stroke-width="1.1"/><text x="632.11" y="467.9" text-anchor="middle" font-size="8.4" fill="#4d4d4d">+60</text><line x1="666.34" x2="666.34" y1="456.5" y2="459.5" stroke="#333333" stroke-width="1.1"/><text x="666.34" y="467.9" text-anchor="middle" font-size="8.4" fill="#4d4d4d">+70</text><text x="529.25" y="480.1" text-anchor="middle" font-size="10.5" fill="#000">Minutes</text><text transform="translate(356 352.25) rotate(-90)" text-anchor="middle" font-size="10.5" fill="#000">STAI</text><text x="347.6" y="256.3" font-size="13.4" font-weight="bold" fill="#000">D</text></g><g><clipPath id="cE"><rect x="28.5" y="492.5" width="309.0" height="209.0"/></clipPath><g clip-path="url(#cE)"><line x1="28.5" x2="337.5" y1="711.23" y2="711.23" stroke="#ebebeb" stroke-width="0.55"/><line x1="28.5" x2="337.5" y1="673.17" y2="673.17" stroke="#ebebeb" stroke-width="0.55"/><line x1="28.5" x2="337.5" y1="635.11" y2="635.11" stroke="#ebebeb" stroke-width="0.55"/><line x1="28.5" x2="337.5" y1="597.05" y2="597.05" stroke="#ebebeb" stroke-width="0.55"/><line x1="28.5" x2="337.5" y1="558.99" y2="558.99" stroke="#ebebeb" stroke-width="0.55"/><line x1="28.5" x2="337.5" y1="520.93" y2="520.93" stroke="#ebebeb" stroke-width="0.55"/><line y1="492.5" y2="701.5" x1="28.45" x2="28.45" stroke="#ebebeb" stroke-width="0.55"/><line y1="492.5" y2="701.5" x1="62.75" x2="62.75" stroke="#ebebeb" stroke-width="0.55"/><line y1="492.5" y2="701.5" x1="97.05" x2="97.05" stroke="#ebebeb" stroke-width="0.55"/><line y1="492.5" y2="701.5" x1="131.35" x2="131.35" stroke="#ebebeb" stroke-width="0.55"/><line y1="492.5" y2="701.5" x1="165.65" x2="165.65" stroke="#ebebeb" stroke-width="0.55"/><line y1="492.5" y2="701.5" x1="199.95" x2="199.95" stroke="#ebebeb" stroke-width="0.55"/><line y1="492.5" y2="701.5" x1="234.25" x2="234.25" stroke="#ebebeb" stroke-width="0.55"/><line y1="492.5" y2="701.5" x1="268.55" x2="268.55" stroke="#ebebeb" stroke-width="0.55"/><line y1="492.5" y2="701.5" x1="302.85" x2="302.85" stroke="#ebebeb" stroke-width="0.55"/><line y1="492.5" y2="701.5" x1="337.15" x2="337.15" stroke="#ebebeb" stroke-width="0.55"/><line x1="28.5" x2="337.5" y1="692.2" y2="692.2" stroke="#ebebeb" stroke-width="1.1"/><line x1="28.5" x2="337.5" y1="654.14" y2="654.14" stroke="#ebebeb" stroke-width="1.1"/><line x1="28.5" x2="337.5" y1="616.08" y2="616.08" stroke="#ebebeb" stroke-width="1.1"/><line x1="28.5" x2="337.5" y1="578.02" y2="578.02" stroke="#ebebeb" stroke-width="1.1"/><line x1="28.5" x2="337.5" y1="539.96" y2="539.96" stroke="#ebebeb" stroke-width="1.1"/><line x1="28.5" x2="337.5" y1="501.9" y2="501.9" stroke="#ebebeb" stroke-width="1.1"/><line y1="492.5" y2="701.5" x1="45.6" x2="45.6" stroke="#ebebeb" stroke-width="1.1"/><line y1="492.5" y2="701.5" x1="79.9" x2="79.9" stroke="#ebebeb" stroke-width="1.1"/><line y1="492.5" y2="701.5" x1="114.2" x2="114.2" stroke="#ebebeb" stroke-width="1.1"/><line y1="492.5" y2="701.5" x1="148.5" x2="148.5" stroke="#ebebeb" stroke-width="1.1"/><line y1="492.5" y2="701.5" x1="182.8" x2="182.8" stroke="#ebebeb" stroke-width="1.1"/><line y1="492.5" y2="701.5" x1="217.1" x2="217.1" stroke="#ebebeb" stroke-width="1.1"/><line y1="492.5" y2="701.5" x1="251.4" x2="251.4" stroke="#ebebeb" stroke-width="1.1"/><line y1="492.5" y2="701.5" x1="285.7" x2="285.7" stroke="#ebebeb" stroke-width="1.1"/><line y1="492.5" y2="701.5" x1="320" x2="320" stroke="#ebebeb" stroke-width="1.1"/><rect x="79.9" y="501.9" width="34.3" height="190.3" fill="none" stroke="#7f7f7f" stroke-opacity="0.5" stroke-width="1.9"/><text x="97.05" y="689.8" text-anchor="middle" font-size="11" fill="#888d8d">TSST</text><path d="M45.6 559.4 L79.9 612.7 L114.2 559.4 L148.5 580.6 L182.8 616.7 L217.1 607.1 L251.4 605.2 L285.7 627.8 L320 620.8" stroke="#900c08" stroke-width="2.1" fill="none" stroke-linejoin="round" stroke-linecap="butt"/><path d="M42.17 526.2H49.03M45.6 526.2V592.3M42.17 592.3H49.03" stroke="#900c08" stroke-width="1.1" fill="none"/><path d="M76.47 578.8H83.33M79.9 578.8V647.7M76.47 647.7H83.33" stroke="#900c08" stroke-width="1.1" fill="none"/><path d="M110.77 526.2H117.63M114.2 526.2V592.1M110.77 592.1H117.63" stroke="#900c08" stroke-width="1.1" fill="none"/><path d="M145.07 545.4H151.93M148.5 545.4V616.9M145.07 616.9H151.93" stroke="#900c08" stroke-width="1.1" fill="none"/><path d="M179.37 581.8H186.23M182.8 581.8V651.9M179.37 651.9H186.23" stroke="#900c08" stroke-width="1.1" fill="none"/><path d="M213.67 570.6H220.53M217.1 570.6V643.7M213.67 643.7H220.53" stroke="#900c08" stroke-width="1.1" fill="none"/><path d="M247.97 567.8H254.83M251.4 567.8V642.1M247.97 642.1H254.83" stroke="#900c08" stroke-width="1.1" fill="none"/><path d="M282.27 589.3H289.13M285.7 589.3V667.1M282.27 667.1H289.13" stroke="#900c08" stroke-width="1.1" fill="none"/><path d="M316.57 581.1H323.43M320 581.1V660.5M316.57 660.5H323.43" stroke="#900c08" stroke-width="1.1" fill="none"/></g><rect x="28.5" y="492.5" width="309" height="209" fill="none" stroke="#7a7a7a" stroke-width="1.05"/><line x1="25.5" x2="28.5" y1="692.2" y2="692.2" stroke="#333333" stroke-width="1.1"/><text x="23.7" y="695.3" text-anchor="end" font-size="8.4" fill="#4d4d4d">23</text><line x1="25.5" x2="28.5" y1="654.14" y2="654.14" stroke="#333333" stroke-width="1.1"/><text x="23.7" y="657.24" text-anchor="end" font-size="8.4" fill="#4d4d4d">24</text><line x1="25.5" x2="28.5" y1="616.08" y2="616.08" stroke="#333333" stroke-width="1.1"/><text x="23.7" y="619.18" text-anchor="end" font-size="8.4" fill="#4d4d4d">25</text><line x1="25.5" x2="28.5" y1="578.02" y2="578.02" stroke="#333333" stroke-width="1.1"/><text x="23.7" y="581.12" text-anchor="end" font-size="8.4" fill="#4d4d4d">26</text><line x1="25.5" x2="28.5" y1="539.96" y2="539.96" stroke="#333333" stroke-width="1.1"/><text x="23.7" y="543.06" text-anchor="end" font-size="8.4" fill="#4d4d4d">27</text><line x1="25.5" x2="28.5" y1="501.9" y2="501.9" stroke="#333333" stroke-width="1.1"/><text x="23.7" y="505" text-anchor="end" font-size="8.4" fill="#4d4d4d">28</text><line x1="45.6" x2="45.6" y1="701.5" y2="704.5" stroke="#333333" stroke-width="1.1"/><text x="45.6" y="712.9" text-anchor="middle" font-size="8.4" fill="#4d4d4d">-20</text><line x1="79.9" x2="79.9" y1="701.5" y2="704.5" stroke="#333333" stroke-width="1.1"/><text x="79.9" y="712.9" text-anchor="middle" font-size="8.4" fill="#4d4d4d">0</text><line x1="114.2" x2="114.2" y1="701.5" y2="704.5" stroke="#333333" stroke-width="1.1"/><text x="114.2" y="712.9" text-anchor="middle" font-size="8.4" fill="#4d4d4d">+10</text><line x1="148.5" x2="148.5" y1="701.5" y2="704.5" stroke="#333333" stroke-width="1.1"/><text x="148.5" y="712.9" text-anchor="middle" font-size="8.4" fill="#4d4d4d">+20</text><line x1="182.8" x2="182.8" y1="701.5" y2="704.5" stroke="#333333" stroke-width="1.1"/><text x="182.8" y="712.9" text-anchor="middle" font-size="8.4" fill="#4d4d4d">+30</text><line x1="217.1" x2="217.1" y1="701.5" y2="704.5" stroke="#333333" stroke-width="1.1"/><text x="217.1" y="712.9" text-anchor="middle" font-size="8.4" fill="#4d4d4d">+40</text><line x1="251.4" x2="251.4" y1="701.5" y2="704.5" stroke="#333333" stroke-width="1.1"/><text x="251.4" y="712.9" text-anchor="middle" font-size="8.4" fill="#4d4d4d">+50</text><line x1="285.7" x2="285.7" y1="701.5" y2="704.5" stroke="#333333" stroke-width="1.1"/><text x="285.7" y="712.9" text-anchor="middle" font-size="8.4" fill="#4d4d4d">+60</text><line x1="320" x2="320" y1="701.5" y2="704.5" stroke="#333333" stroke-width="1.1"/><text x="320" y="712.9" text-anchor="middle" font-size="8.4" fill="#4d4d4d">+70</text><text x="183" y="725.1" text-anchor="middle" font-size="10.5" fill="#000">Minutes</text><text transform="translate(9.6 597) rotate(-90)" text-anchor="middle" font-size="10.5" fill="#000">Empathic Concern</text><text x="1.3" y="500.8" font-size="13.4" font-weight="bold" fill="#000">E</text></g><g><clipPath id="cF"><rect x="375" y="492.5" width="308.5" height="209.0"/></clipPath><g clip-path="url(#cF)"><line x1="375" x2="683.5" y1="691.75" y2="691.75" stroke="#ebebeb" stroke-width="0.55"/><line x1="375" x2="683.5" y1="633.25" y2="633.25" stroke="#ebebeb" stroke-width="0.55"/><line x1="375" x2="683.5" y1="574.75" y2="574.75" stroke="#ebebeb" stroke-width="0.55"/><line x1="375" x2="683.5" y1="516.25" y2="516.25" stroke="#ebebeb" stroke-width="0.55"/><line y1="492.5" y2="701.5" x1="375.38" x2="375.38" stroke="#ebebeb" stroke-width="0.55"/><line y1="492.5" y2="701.5" x1="409.62" x2="409.62" stroke="#ebebeb" stroke-width="0.55"/><line y1="492.5" y2="701.5" x1="443.85" x2="443.85" stroke="#ebebeb" stroke-width="0.55"/><line y1="492.5" y2="701.5" x1="478.07" x2="478.07" stroke="#ebebeb" stroke-width="0.55"/><line y1="492.5" y2="701.5" x1="512.3" x2="512.3" stroke="#ebebeb" stroke-width="0.55"/><line y1="492.5" y2="701.5" x1="546.53" x2="546.53" stroke="#ebebeb" stroke-width="0.55"/><line y1="492.5" y2="701.5" x1="580.76" x2="580.76" stroke="#ebebeb" stroke-width="0.55"/><line y1="492.5" y2="701.5" x1="615" x2="615" stroke="#ebebeb" stroke-width="0.55"/><line y1="492.5" y2="701.5" x1="649.22" x2="649.22" stroke="#ebebeb" stroke-width="0.55"/><line y1="492.5" y2="701.5" x1="683.45" x2="683.45" stroke="#ebebeb" stroke-width="0.55"/><line x1="375" x2="683.5" y1="662.5" y2="662.5" stroke="#ebebeb" stroke-width="1.1"/><line x1="375" x2="683.5" y1="604" y2="604" stroke="#ebebeb" stroke-width="1.1"/><line x1="375" x2="683.5" y1="545.5" y2="545.5" stroke="#ebebeb" stroke-width="1.1"/><line y1="492.5" y2="701.5" x1="392.5" x2="392.5" stroke="#ebebeb" stroke-width="1.1"/><line y1="492.5" y2="701.5" x1="426.73" x2="426.73" stroke="#ebebeb" stroke-width="1.1"/><line y1="492.5" y2="701.5" x1="460.96" x2="460.96" stroke="#ebebeb" stroke-width="1.1"/><line y1="492.5" y2="701.5" x1="495.19" x2="495.19" stroke="#ebebeb" stroke-width="1.1"/><line y1="492.5" y2="701.5" x1="529.42" x2="529.42" stroke="#ebebeb" stroke-width="1.1"/><line y1="492.5" y2="701.5" x1="563.65" x2="563.65" stroke="#ebebeb" stroke-width="1.1"/><line y1="492.5" y2="701.5" x1="597.88" x2="597.88" stroke="#ebebeb" stroke-width="1.1"/><line y1="492.5" y2="701.5" x1="632.11" x2="632.11" stroke="#ebebeb" stroke-width="1.1"/><line y1="492.5" y2="701.5" x1="666.34" x2="666.34" stroke="#ebebeb" stroke-width="1.1"/><rect x="426.73" y="501.62" width="34.23" height="190.12" fill="none" stroke="#7f7f7f" stroke-opacity="0.5" stroke-width="1.9"/><text x="443.85" y="689.3" text-anchor="middle" font-size="11" fill="#888d8d">TSST</text><path d="M392.5 639.1 L426.73 561.2 L460.96 532.5 L495.19 618.5 L529.42 654.2 L563.65 669.9 L597.88 669 L632.11 660.1 L666.34 677.6" stroke="#900c08" stroke-width="2.1" fill="none" stroke-linejoin="round" stroke-linecap="butt"/><path d="M389.08 627.4H395.92M392.5 627.4V651.9M389.08 651.9H395.92" stroke="#900c08" stroke-width="1.1" fill="none"/><path d="M423.31 546.5H430.15M426.73 546.5V575.3M423.31 575.3H430.15" stroke="#900c08" stroke-width="1.1" fill="none"/><path d="M457.54 515.2H464.38M460.96 515.2V549.1M457.54 549.1H464.38" stroke="#900c08" stroke-width="1.1" fill="none"/><path d="M491.77 606.4H498.61M495.19 606.4V631.3M491.77 631.3H498.61" stroke="#900c08" stroke-width="1.1" fill="none"/><path d="M526 644H532.84M529.42 644V664.3M526 664.3H532.84" stroke="#900c08" stroke-width="1.1" fill="none"/><path d="M560.23 662.4H567.07M563.65 662.4V677.6M560.23 677.6H567.07" stroke="#900c08" stroke-width="1.1" fill="none"/><path d="M594.46 659.6H601.3M597.88 659.6V679.2M594.46 679.2H601.3" stroke="#900c08" stroke-width="1.1" fill="none"/><path d="M628.69 651.2H635.53M632.11 651.2V669.4M628.69 669.4H635.53" stroke="#900c08" stroke-width="1.1" fill="none"/><path d="M662.92 669.4H669.76M666.34 669.4V685.3M662.92 685.3H669.76" stroke="#900c08" stroke-width="1.1" fill="none"/></g><rect x="375" y="492.5" width="308.5" height="209" fill="none" stroke="#7a7a7a" stroke-width="1.05"/><line x1="372" x2="375" y1="662.5" y2="662.5" stroke="#333333" stroke-width="1.1"/><text x="370.2" y="665.6" text-anchor="end" font-size="8.4" fill="#4d4d4d">12</text><line x1="372" x2="375" y1="604" y2="604" stroke="#333333" stroke-width="1.1"/><text x="370.2" y="607.1" text-anchor="end" font-size="8.4" fill="#4d4d4d">16</text><line x1="372" x2="375" y1="545.5" y2="545.5" stroke="#333333" stroke-width="1.1"/><text x="370.2" y="548.6" text-anchor="end" font-size="8.4" fill="#4d4d4d">20</text><line x1="392.5" x2="392.5" y1="701.5" y2="704.5" stroke="#333333" stroke-width="1.1"/><text x="392.5" y="712.9" text-anchor="middle" font-size="8.4" fill="#4d4d4d">-20</text><line x1="426.73" x2="426.73" y1="701.5" y2="704.5" stroke="#333333" stroke-width="1.1"/><text x="426.73" y="712.9" text-anchor="middle" font-size="8.4" fill="#4d4d4d">0</text><line x1="460.96" x2="460.96" y1="701.5" y2="704.5" stroke="#333333" stroke-width="1.1"/><text x="460.96" y="712.9" text-anchor="middle" font-size="8.4" fill="#4d4d4d">+10</text><line x1="495.19" x2="495.19" y1="701.5" y2="704.5" stroke="#333333" stroke-width="1.1"/><text x="495.19" y="712.9" text-anchor="middle" font-size="8.4" fill="#4d4d4d">+20</text><line x1="529.42" x2="529.42" y1="701.5" y2="704.5" stroke="#333333" stroke-width="1.1"/><text x="529.42" y="712.9" text-anchor="middle" font-size="8.4" fill="#4d4d4d">+30</text><line x1="563.65" x2="563.65" y1="701.5" y2="704.5" stroke="#333333" stroke-width="1.1"/><text x="563.65" y="712.9" text-anchor="middle" font-size="8.4" fill="#4d4d4d">+40</text><line x1="597.88" x2="597.88" y1="701.5" y2="704.5" stroke="#333333" stroke-width="1.1"/><text x="597.88" y="712.9" text-anchor="middle" font-size="8.4" fill="#4d4d4d">+50</text><line x1="632.11" x2="632.11" y1="701.5" y2="704.5" stroke="#333333" stroke-width="1.1"/><text x="632.11" y="712.9" text-anchor="middle" font-size="8.4" fill="#4d4d4d">+60</text><line x1="666.34" x2="666.34" y1="701.5" y2="704.5" stroke="#333333" stroke-width="1.1"/><text x="666.34" y="712.9" text-anchor="middle" font-size="8.4" fill="#4d4d4d">+70</text><text x="529.25" y="725.1" text-anchor="middle" font-size="10.5" fill="#000">Minutes</text><text transform="translate(356 597) rotate(-90)" text-anchor="middle" font-size="10.5" fill="#000">Personal Distress</text><text x="347.6" y="500.8" font-size="13.4" font-weight="bold" fill="#000">F</text></g>

<text x="232.4" y="749.7" font-size="10.7" fill="#000">Dyadmember:</text>
<line x1="304.2" x2="326.1" y1="745.8" y2="745.8" stroke="#900c08" stroke-width="2.1"/>
<text x="333.8" y="749.7" font-size="10.7" fill="#000">Adolescent</text>
<line x1="393" x2="414.9" y1="745.8" y2="745.8" stroke="#448ef6" stroke-width="2.1"/>
<text x="422.8" y="749.7" font-size="10.7" fill="#000">Parent</text>

</svg>
</body></html>
